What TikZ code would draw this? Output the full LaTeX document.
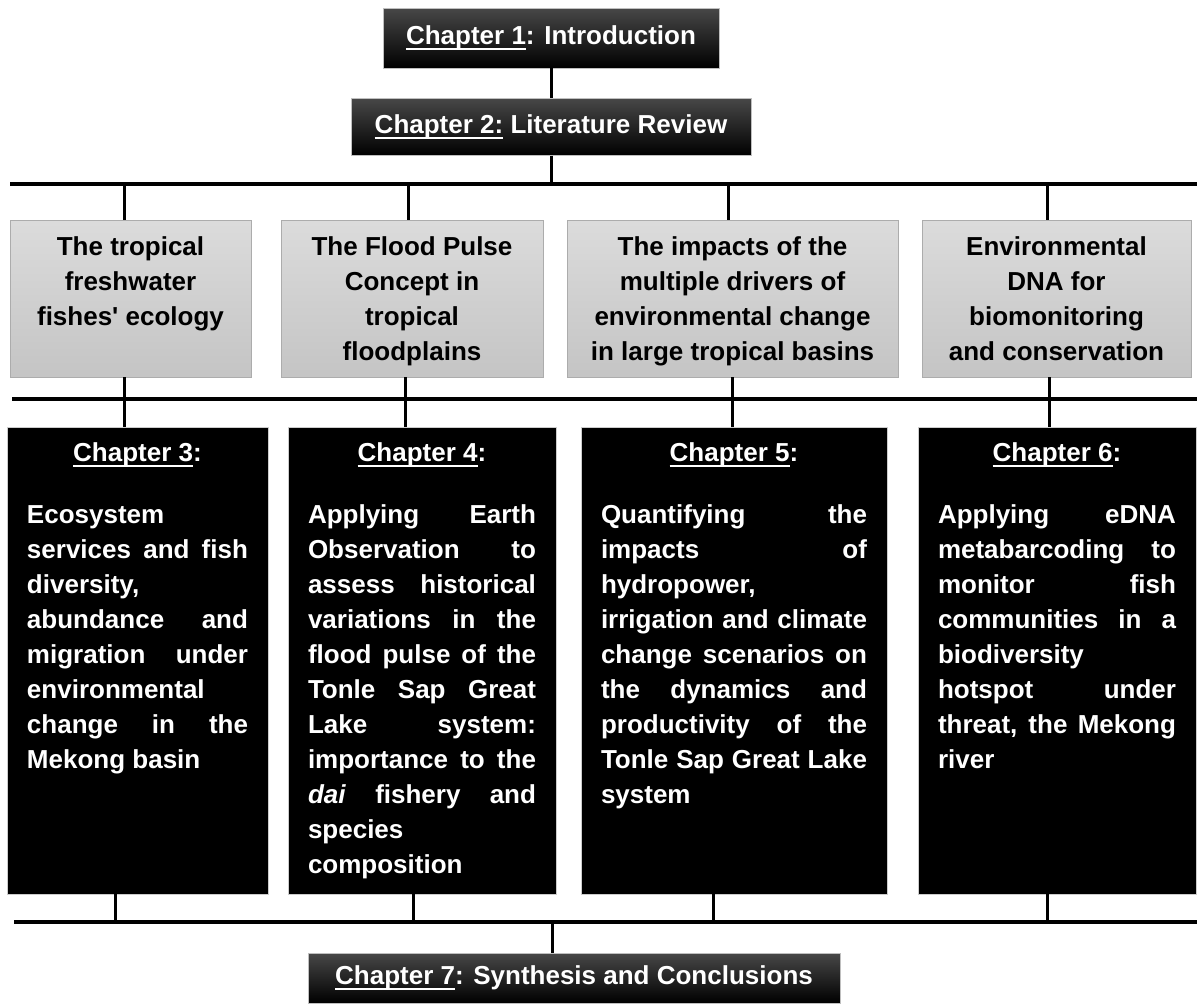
\documentclass[tikz,border=0pt]{standalone}
\usepackage{fontspec}
\setmainfont{Liberation Sans}
\usetikzlibrary{positioning}

\newcommand{\headfont}{\fontsize{26}{30}\selectfont\bfseries}
\newcommand{\bodyfont}{\fontsize{26}{35}\selectfont\bfseries}
% white underline under the chapter number
\newcommand{\chapref}[1]{\setbox0\hbox{#1}\rlap{\rule[-5.5pt]{\wd0}{1.8pt}}\box0\relax}
% top aligned text in the boxes
\newcommand{\littext}[2]{\parbox[t][127pt][t]{#1}{\centering\rule{0pt}{20pt}#2}}
\newcommand{\chaptext}[3]{\parbox[t][439pt][t]{#1}{\tolerance=10000\hyphenpenalty=10000
    {\centering\rule{0pt}{20pt}\chapref{#2}:\par}\vspace{27pt}#3}}

\begin{document}
\begin{tikzpicture}[x=1pt, y=-1pt,
    node distance=30pt,
    headbox/.style={draw=gray!50, top color=black!72, bottom color=black, text=white, inner sep=0pt, font=\headfont},
    litbox/.style={draw=gray!65, top color=gray!28, bottom color=gray!46, anchor=north, inner xsep=10pt, inner ysep=15pt, font=\bodyfont},
    chapbox/.style={draw=gray!40, fill=black, text=white, anchor=north, inner xsep=20pt, inner ysep=14pt, font=\bodyfont},
    bar/.style={line width=3.5pt},
    link/.style={line width=3pt}
]
    \useasboundingbox (0,0) rectangle (1202,1005);

    % Chapters 1 and 2
    \node[headbox, minimum width=336pt, minimum height=60pt] (ch1) at (551,38) {\chapref{Chapter 1}: Introduction};
    \node[headbox, minimum width=400pt, minimum height=57pt, below=of ch1] (ch2) {\chapref{Chapter 2:} Literature Review};

    % Literature review themes
    \node[litbox] (lit1) at (130.5,220) {\littext{221pt}{The tropical\\freshwater\\fishes\textquotesingle{} ecology}};
    \node[litbox] (lit2) at (412,220) {\littext{242pt}{The Flood Pulse\\Concept in\\tropical\\floodplains}};
    \node[litbox] (lit3) at (732.5,220) {\littext{311pt}{The impacts of the\\multiple drivers of\\environmental change\\in large tropical basins}};
    \node[litbox] (lit4) at (1056.5,220) {\littext{249pt}{Environmental\\DNA for\\biomonitoring\\and conservation}};

    % Data chapters
    \node[chapbox] (ch3) at (137.5,427) {\chaptext{221pt}{Chapter 3}{Ecosystem\linebreak services and fish\linebreak diversity,\linebreak abundance and\linebreak migration under\linebreak environmental\linebreak change in the\linebreak Mekong basin}};
    \node[chapbox] (ch4) at (422,427) {\chaptext{228pt}{Chapter 4}{Applying Earth\linebreak Observation to\linebreak assess historical\linebreak variations in the\linebreak flood pulse of the\linebreak Tonle Sap Great\linebreak Lake system:\linebreak importance to the\linebreak \textit{dai} fishery and\linebreak species\linebreak composition}};
    \node[chapbox] (ch5) at (734,427) {\chaptext{266pt}{Chapter 5}{Quantifying the\linebreak impacts of\linebreak hydropower,\linebreak irrigation and climate\linebreak change scenarios on\linebreak the dynamics and\linebreak productivity of the\linebreak Tonle Sap Great Lake\linebreak system}};
    \node[chapbox] (ch6) at (1057,427) {\chaptext{238pt}{Chapter 6}{Applying eDNA\linebreak metabarcoding to\linebreak monitor fish\linebreak communities in a\linebreak biodiversity\linebreak hotspot under\linebreak threat, the Mekong\linebreak river}};

    % Chapter 7
    \node[headbox, minimum width=532pt, minimum height=50pt] (ch7) at (574,978) {\chapref{Chapter 7}: Synthesis and Conclusions};

    % Bars
    \coordinate (topL) at (10,184);
    \coordinate (topR) at (1197,184);
    \coordinate (midL) at (12,399);
    \coordinate (midR) at (1197,399);
    \coordinate (botL) at (14,922);
    \coordinate (botR) at (1197,922);
    \draw[bar] (topL) -- (topR);
    \draw[bar] (midL) -- (midR);
    \draw[bar] (botL) -- (botR);

    % Drop points on the bars
    \foreach \n/\x in {1/124, 2/408, 3/728, 4/1047}
        \coordinate (up\n) at (\x,184);
    \foreach \n/\x in {1/124, 2/405, 3/732, 4/1049}
        \coordinate (dn\n) at (\x,399);
    \foreach \n/\x in {0/552, 1/115, 2/413, 3/713, 4/1047}
        \coordinate (lo\n) at (\x,922);

    \draw[link] (ch1.south) -- (ch1.south |- ch2.north);
    \draw[link] (ch2.south) -- (ch2.south |- topL);
    \foreach \n/\c in {1/3, 2/4, 3/5, 4/6} {
        \draw[link] (up\n) -- (up\n |- lit\n.north);
        \draw[link] (lit\n.south -| dn\n) -- (dn\n |- ch\c.north);
        \draw[link] (ch\c.south -| lo\n) -- (lo\n);
    }
    \draw[link] (lo0) -- (lo0 |- ch7.north);
\end{tikzpicture}
\end{document}
